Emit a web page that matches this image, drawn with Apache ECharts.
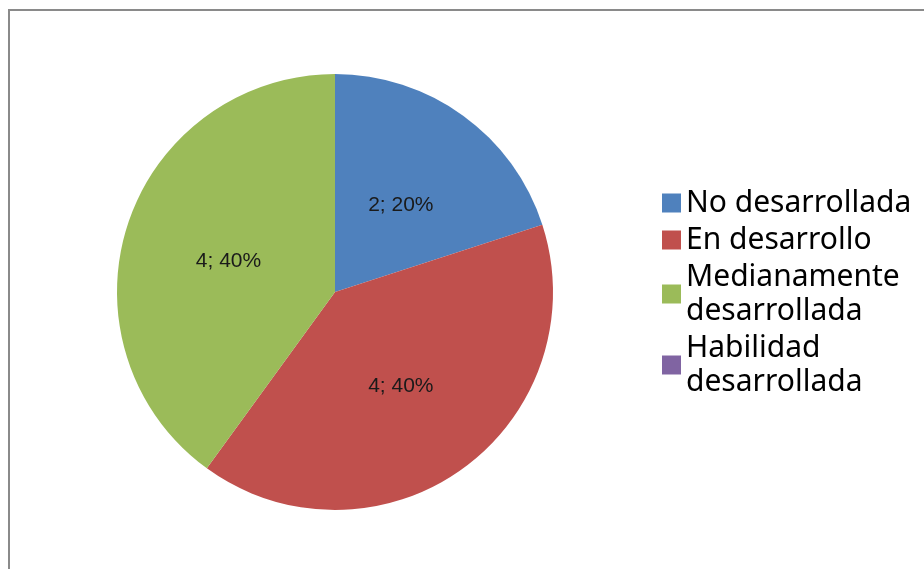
<!DOCTYPE html>
<html>
<head>
<meta charset="utf-8">
<script src="https://cdn.jsdelivr.net/npm/echarts@6/dist/echarts.min.js"></script>
<style>
  html, body { margin: 0; padding: 0; background: #fff; }
  #chart { width: 924px; height: 569px; }
</style>
</head>
<body>
<div id="chart"></div>
<script>
// categories and counts
const categories = ['No desarrollada', 'En desarrollo', 'Medianamente desarrollada', 'Habilidad desarrollada'];
const legendNames = ['No desarrollada', 'En desarrollo', 'Medianamente\ndesarrollada', 'Habilidad\ndesarrollada'];
const values = [2, 4, 4, 0];
const colors = ['#4F81BD', '#C0504D', '#9BBB59', '#8064A2'];

const chart = echarts.init(document.getElementById('chart'), null, { renderer: 'canvas' });

const seriesData = categories.map((name, i) => ({
  name: name,
  value: values[i],
  itemStyle: { color: colors[i] },
  label: { show: values[i] > 0 }
}));

chart.setOption({
  animation: false,
  backgroundColor: '#fff',
  graphic: [{
    type: 'rect',
    shape: { x: 9, y: 10, width: 1000, height: 1000 },
    style: { fill: 'none', stroke: '#8a8a8a', lineWidth: 2 },
    silent: true
  }],
  legend: {
    orient: 'vertical',
    left: 662,
    top: 186,
    padding: 0,
    itemGap: 3,
    itemWidth: 19,
    itemHeight: 19,
    icon: 'rect',
    selectedMode: false,
    data: categories,
    formatter: name => legendNames[categories.indexOf(name)],
    textStyle: {
      fontFamily: 'Noto Sans',
      fontSize: 30,
      lineHeight: 34,
      color: '#000'
    }
  },
  series: [{
    type: 'pie',
    center: [335, 292],
    radius: 218,
    startAngle: 90,
    clockwise: true,
    avoidLabelOverlap: false,
    label: {
      position: 'inside',
      formatter: '{c}; {d}%',
      fontFamily: 'Liberation Sans',
      fontSize: 21,
      color: '#1a1a1a',
      offset: [0, 4]
    },
    labelLine: { show: false },
    itemStyle: { borderWidth: 0 },
    emphasis: { disabled: true },
    data: seriesData
  }]
});
</script>
</body>
</html>
